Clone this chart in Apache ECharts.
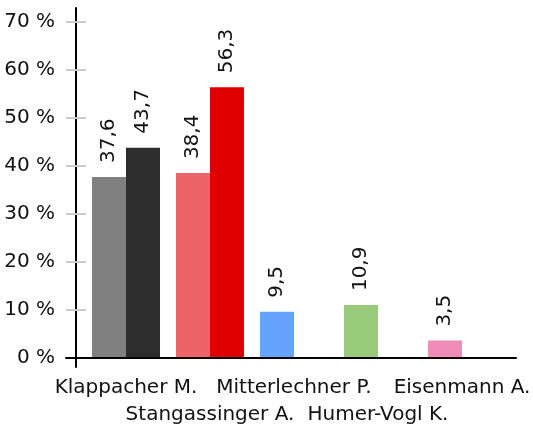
<!DOCTYPE html>
<html>
<head>
<meta charset="utf-8">
<script src="https://cdn.jsdelivr.net/npm/echarts@6/dist/echarts.min.js"></script>
<style>
  html, body { margin: 0; padding: 0; background: #fff; }
  #chart { width: 533px; height: 425px; }
</style>
</head>
<body>
<div id="chart"></div>
<script>
const candidates = ['Klappacher M.', 'Stangassinger A.', 'Mitterlechner P.', 'Humer-Vogl K.', 'Eisenmann A.']
const firstValues = [37.6, 38.4, 9.5, 10.9, 3.5]
const firstColors = ['#808080', '#ec6468', '#66a3ff', '#99c97a', '#f08cb8']
const secondValues = [43.7, 56.3, null, null, null]
const secondColors = ['#2d2d2d', '#e00000', null, null, null]
const yTicks = [0, 10, 20, 30, 40, 50, 60, 70]

const FONT = 'DejaVu Sans'
const chart = echarts.init(document.getElementById('chart'))

function fmt(v) {
  return String(v).replace('.', ',')
}

const valueLabel = {
  show: true,
  position: 'top',
  rotate: 90,
  align: 'left',
  verticalAlign: 'middle',
  distance: 14,
  fontFamily: FONT,
  fontSize: 20,
  color: '#111',
  formatter: (p) => fmt(p.value),
}

chart.setOption({
  animation: false,
  grid: [
    // axis frame only
    { left: 66, right: 17, top: 8, bottom: 58, outerBoundsMode: 'none' },
    // bars
    { left: 84, right: 29, top: 8, bottom: 58, outerBoundsMode: 'none' },
  ],
  xAxis: [
    {
      gridIndex: 0, type: 'value', min: -10, max: 440,
      axisLine: { show: true, onZero: true, lineStyle: { color: '#000', width: 2 } },
      axisTick: { show: false }, axisLabel: { show: false }, splitLine: { show: false },
      z: 5,
    },
    {
      gridIndex: 1, type: 'category', data: candidates,
      axisLine: { show: false }, axisTick: { show: false },
      axisLabel: {
        interval: 0, margin: 7, fontFamily: FONT, fontSize: 20, lineHeight: 27, color: '#111',
        formatter: (v, i) => (i % 2 ? '\n' + v : v),
      },
    },
  ],
  yAxis: [
    { gridIndex: 0, type: 'value', min: -2, max: 72.8, show: false },
    {
      gridIndex: 1, type: 'value', position: 'left', min: -2, max: 72.8, offset: 8,
      axisLine: { show: true, lineStyle: { color: '#000', width: 2 } },
      axisTick: { show: true, length: 10, customValues: yTicks, lineStyle: { color: '#ccc', width: 2 } },
      axisLabel: {
        customValues: yTicks, margin: 21, fontFamily: FONT, fontSize: 20, color: '#111',
        formatter: (v) => v + ' %',
      },
      splitLine: { show: false },
    },
    {
      gridIndex: 1, type: 'value', position: 'left', min: -2, max: 72.8, offset: 8,
      axisLine: { show: false },
      axisTick: { show: true, inside: true, length: 10, customValues: yTicks, lineStyle: { color: '#ccc', width: 2 } },
      axisLabel: { show: false },
      splitLine: { show: false },
    },
  ],
  series: [
    {
      type: 'bar', xAxisIndex: 1, yAxisIndex: 1, barWidth: 34, barGap: '0%',
      data: firstValues.map((v, i) => ({ value: v, itemStyle: { color: firstColors[i] } })),
      label: valueLabel,
    },
    {
      type: 'bar', xAxisIndex: 1, yAxisIndex: 1, barWidth: 34, barGap: '0%',
      data: secondValues.map((v, i) => ({ value: v, itemStyle: { color: secondColors[i] || '#000' } })),
      label: valueLabel,
    },
  ],
})
</script>
</body>
</html>
